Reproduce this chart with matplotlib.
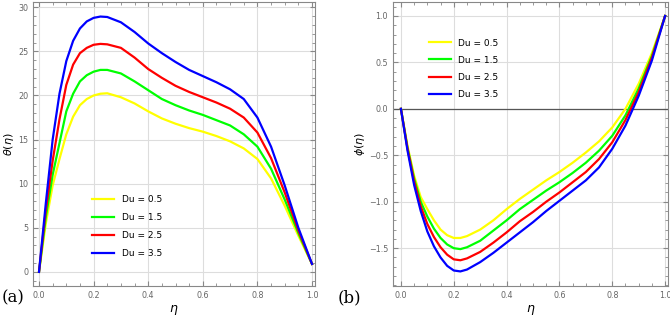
import matplotlib
matplotlib.use('Agg')
import matplotlib.pyplot as plt
from matplotlib.ticker import MultipleLocator

eta = [0, 0.025, 0.05, 0.075, 0.1, 0.125, 0.15, 0.175, 0.2, 0.225, 0.25, 0.3, 0.35, 0.4,
       0.45, 0.5, 0.55, 0.6, 0.65, 0.7, 0.75, 0.8, 0.85, 0.9, 0.95, 1.0]

labels = ['Du = 0.5', 'Du = 1.5', 'Du = 2.5', 'Du = 3.5']
colors = ['#ffff00', '#00ff00', '#ff0000', '#0000ff']

theta_05 = [0, 5.5, 9.8, 12.8, 15.6, 17.6, 18.9, 19.6, 20.0, 20.2, 20.25, 19.8, 19.1, 18.2,
            17.4, 16.8, 16.3, 15.9, 15.4, 14.8, 14.0, 12.8, 10.6, 7.5, 4.1, 0.9]
theta_15 = [0, 6.2, 11.0, 14.6, 18.2, 20.2, 21.6, 22.3, 22.7, 22.9, 22.9, 22.5, 21.6, 20.6,
            19.6, 18.9, 18.3, 17.8, 17.2, 16.6, 15.6, 14.2, 11.7, 8.2, 4.4, 0.9]
theta_25 = [0, 7, 12.6, 17.3, 21.2, 23.5, 24.8, 25.4, 25.75, 25.85, 25.8, 25.4, 24.3, 23.0,
            22.0, 21.1, 20.4, 19.8, 19.2, 18.5, 17.5, 15.8, 12.9, 9.0, 4.7, 0.9]
theta_35 = [0, 7.8, 15.0, 20.2, 23.9, 26.2, 27.6, 28.4, 28.8, 28.95, 28.9, 28.3, 27.2, 25.9,
            24.8, 23.8, 22.9, 22.2, 21.5, 20.7, 19.6, 17.5, 14.2, 9.8, 5.0, 0.9]

phi_05 = [0, -0.4, -0.72, -0.95, -1.08, -1.2, -1.3, -1.36, -1.39, -1.39, -1.37, -1.3, -1.2, -1.08,
          -0.97, -0.87, -0.77, -0.68, -0.58, -0.47, -0.35, -0.2, 0.0, 0.27, 0.6, 1.0]
phi_15 = [0, -0.42, -0.75, -1.0, -1.16, -1.29, -1.39, -1.46, -1.50, -1.51, -1.49, -1.42, -1.31, -1.2,
          -1.08, -0.98, -0.88, -0.79, -0.69, -0.58, -0.45, -0.29, -0.07, 0.22, 0.57, 1.0]
phi_25 = [0, -0.43, -0.78, -1.05, -1.24, -1.38, -1.49, -1.57, -1.62, -1.63, -1.61, -1.54, -1.44, -1.33,
          -1.21, -1.11, -1.0, -0.9, -0.79, -0.68, -0.54, -0.36, -0.12, 0.18, 0.55, 1.0]
phi_35 = [0, -0.45, -0.82, -1.1, -1.32, -1.48, -1.6, -1.69, -1.74, -1.75, -1.73, -1.65, -1.55, -1.44,
          -1.33, -1.22, -1.10, -0.99, -0.88, -0.77, -0.63, -0.43, -0.18, 0.14, 0.52, 1.0]

thetas = [theta_05, theta_15, theta_25, theta_35]
phis = [phi_05, phi_15, phi_25, phi_35]

fig = plt.figure(figsize=(6.7, 3.18), dpi=100)
W, H = 670, 318
ax1 = fig.add_axes([33 / W, 1 - 286 / H, 282 / W, 284 / H])
ax2 = fig.add_axes([393 / W, 1 - 286 / H, 275 / W, 284 / H])

def style(ax):
    for s in ax.spines.values():
        s.set_color('#888888')
        s.set_linewidth(0.8)
    ax.tick_params(which='both', direction='in', colors='#888888', labelsize=5.8,
                   labelcolor='#666666', top=True, right=True)
    ax.tick_params(which='major', length=3.5)
    ax.tick_params(which='minor', length=2)
    ax.grid(True, which='major', color='#dddddd', linewidth=0.8)
    ax.set_axisbelow(True)

for y, c, lab in zip(thetas, colors, labels):
    ax1.plot(eta, y, color=c, lw=1.6, label=lab)
ax1.set_xlim(-0.022, 1.011)
ax1.set_ylim(-1.6, 30.6)
ax1.xaxis.set_major_locator(MultipleLocator(0.2))
ax1.xaxis.set_minor_locator(MultipleLocator(0.05))
ax1.yaxis.set_major_locator(MultipleLocator(5))
ax1.yaxis.set_minor_locator(MultipleLocator(1))
ax1.xaxis.set_major_formatter(lambda v, p: f'{v:.1f}')
style(ax1)
ax1.set_ylabel(r'$\theta(\eta)$', fontsize=8, labelpad=1)
ax1.set_xlabel(r'$\eta$', fontsize=9, labelpad=2)
ax1.legend(loc='lower left', bbox_to_anchor=(0.18, 0.07), frameon=False,
           fontsize=6.5, handlelength=2.5, labelspacing=1.0)

for y, c, lab in zip(phis, colors, labels):
    ax2.plot(eta, y, color=c, lw=1.6, label=lab)
ax2.axhline(0, color='#555555', lw=0.9, zorder=1.5)
ax2.set_xlim(-0.03, 1.011)
ax2.set_ylim(-1.907, 1.15)
ax2.xaxis.set_major_locator(MultipleLocator(0.2))
ax2.xaxis.set_minor_locator(MultipleLocator(0.05))
ax2.yaxis.set_major_locator(MultipleLocator(0.5))
ax2.yaxis.set_minor_locator(MultipleLocator(0.1))
ax2.xaxis.set_major_formatter(lambda v, p: f'{v:.1f}')
ax2.yaxis.set_major_formatter(lambda v, p: f'{v:.1f}'.replace('-', '\u2212'))
style(ax2)
ax2.set_ylabel(r'$\phi(\eta)$', fontsize=8, labelpad=1)
ax2.set_xlabel(r'$\eta$', fontsize=9, labelpad=2)
ax2.legend(loc='upper left', bbox_to_anchor=(0.1, 0.9), frameon=False,
           fontsize=6.5, handlelength=2.5, labelspacing=0.9)

fig.text(2 / W, 1 - 298 / H, '(a)', fontsize=12, family='DejaVu Serif', va='center')
fig.text(338 / W, 1 - 298 / H, '(b)', fontsize=12, family='DejaVu Serif', va='center')

fig.savefig('out.png', dpi=100)
